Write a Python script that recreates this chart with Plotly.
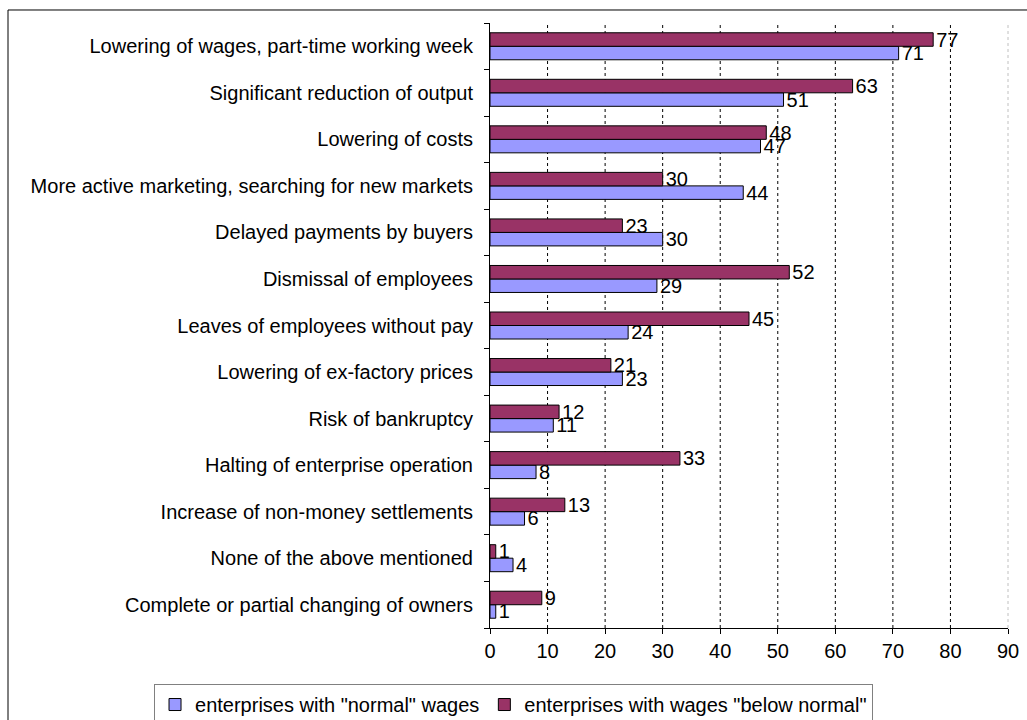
import plotly.graph_objects as go

# Reasons listed top to bottom as they read on the chart
categories = [
    "Lowering of wages, part-time working week",
    "Significant reduction of output",
    "Lowering of costs",
    "More active marketing, searching for new markets",
    "Delayed payments by buyers",
    "Dismissal of employees",
    "Leaves of employees without pay",
    "Lowering of ex-factory prices",
    "Risk of bankruptcy",
    "Halting of enterprise operation",
    "Increase of non-money settlements",
    "None of the above mentioned",
    "Complete or partial changing of owners",
]
normal_wages = [71, 51, 47, 44, 30, 29, 24, 23, 11, 8, 6, 4, 1]
below_normal = [77, 63, 48, 30, 23, 52, 45, 21, 12, 33, 13, 1, 9]
x_ticks = [0, 10, 20, 30, 40, 50, 60, 70, 80, 90]

FONT = "Arial, Liberation Sans, sans-serif"
FS = 20

fig = go.Figure()
fig.add_trace(go.Bar(
    y=categories, x=normal_wages, orientation="h",
    name='enterprises with "normal" wages',
    marker=dict(color="#9999FF", line=dict(color="#000000", width=1)),
    text=normal_wages, textposition="outside", constraintext="none",
    cliponaxis=False, textfont=dict(family=FONT, size=FS, color="#000000"),
    hoverinfo="x+y",
))
fig.add_trace(go.Bar(
    y=categories, x=below_normal, orientation="h",
    name='enterprises with wages "below normal"',
    marker=dict(color="#993366", line=dict(color="#000000", width=1)),
    text=below_normal, textposition="outside", constraintext="none",
    cliponaxis=False, textfont=dict(family=FONT, size=FS, color="#000000"),
    hoverinfo="x+y",
))

# dashed vertical gridlines at the inner ticks
for v in x_ticks[1:-1]:
    fig.add_shape(type="line", xref="x", yref="paper", x0=v, x1=v, y0=0, y1=1,
                  line=dict(color="#000000", width=1, dash="3px,3px"), layer="below")
# light dashed right edge of the plot area
fig.add_shape(type="line", xref="paper", yref="paper", x0=1, x1=1, y0=0, y1=1,
              line=dict(color="#C0C0C0", width=1, dash="3px,3px"), layer="below")
# outer chart frame
fig.add_shape(type="rect", xref="paper", yref="paper",
              x0=-0.9305, x1=1.05, y0=-0.17, y1=1.0215,
              line=dict(color="#000000", width=1), layer="below")

fig.update_layout(
    width=1027, height=720,
    margin=dict(l=490, r=19, t=23, b=92, autoexpand=False),
    paper_bgcolor="#FFFFFF", plot_bgcolor="#FFFFFF",
    barmode="group", bargap=0.42, bargroupgap=0,
    font=dict(family=FONT, size=FS, color="#000000"),
    showlegend=True,
    legend=dict(
        orientation="h", xref="paper", yref="paper",
        x=-0.6486, xanchor="left", y=-0.0926, yanchor="top",
        bordercolor="#808080", borderwidth=1, bgcolor="#FFFFFF",
        font=dict(family=FONT, size=FS, color="#000000"),
        traceorder="normal", itemwidth=30, tracegroupgap=0,
    ),
    xaxis=dict(
        range=[0, 90], tickvals=x_ticks, ticktext=[str(v) for v in x_ticks],
        showgrid=False,
        showline=True, linecolor="#000000", linewidth=1,
        ticks="outside", ticklen=5, tickcolor="#000000",
        zeroline=False, fixedrange=True,
    ),
    yaxis=dict(
        categoryorder="array", categoryarray=categories[::-1],
        showline=True, linecolor="#000000", linewidth=1,
        ticks="outside", ticklen=5, tickcolor="#000000", tickson="boundaries",
        ticklabelstandoff=12,
        showgrid=False, zeroline=False, fixedrange=True,
    ),
)

fig.write_html("out.html")
